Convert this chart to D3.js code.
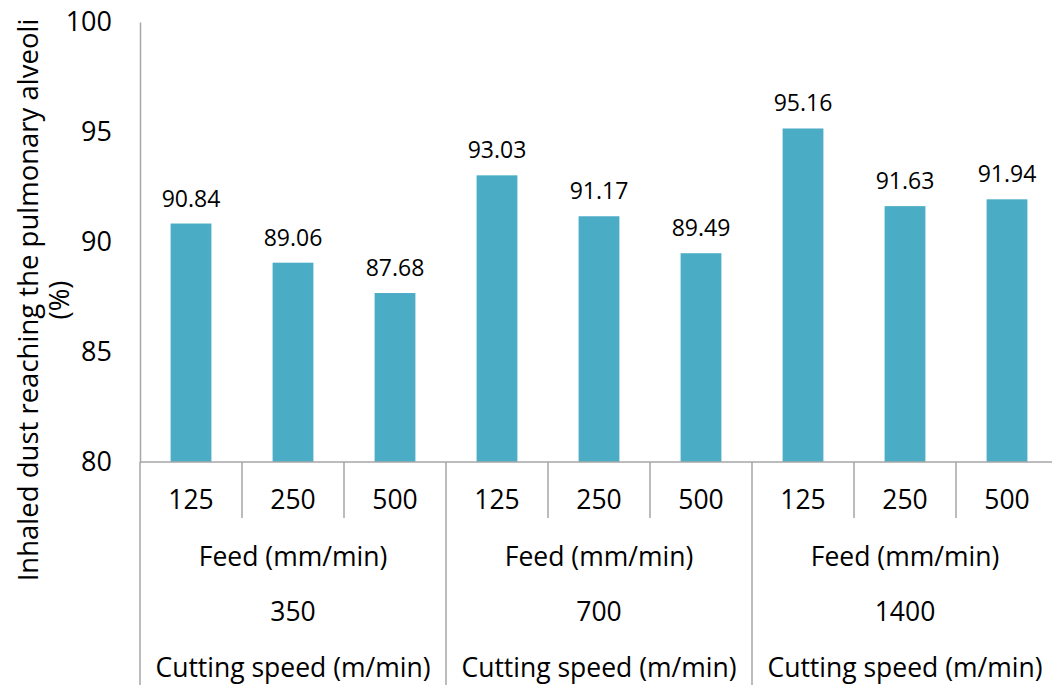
<!DOCTYPE html>
<html>
<head>
<meta charset="utf-8">
<script src="https://cdn.jsdelivr.net/npm/d3@7"></script>
<style>
  body { margin: 0; background: #fff; }
  svg text { font-family: "Open Sans", sans-serif; fill: #000; }
</style>
</head>
<body>
<div id="chart"></div>
<script>
// chart data
const speeds = ["350", "700", "1400"];
const feeds = ["125", "250", "500"];
const values = [90.84, 89.06, 87.68, 93.03, 91.17, 89.49, 95.16, 91.63, 91.94];
const yTicks = [80, 85, 90, 95, 100];
const feedTitle = "Feed (mm/min)";
const speedTitle = "Cutting speed (m/min)";

const width = 1052, height = 685;
const margin = { top: 22, left: 140, bottom: 223 };
const plotBottom = height - margin.bottom; // 462
const axisColor = "#a6a6a6";

const svg = d3.select("#chart")
  .append("svg")
  .attr("width", width)
  .attr("height", height);

// one key per bar: speed|feed
const keys = [];
speeds.forEach(s => feeds.forEach(f => keys.push(s + "|" + f)));

const x = d3.scaleBand()
  .domain(keys)
  .range([margin.left, margin.left + 102 * keys.length]);

const xGroup = d3.scaleBand()
  .domain(speeds)
  .range(x.range());

const y = d3.scaleLinear()
  .domain([80, 100])
  .range([plotBottom, margin.top]);

// y axis
const yAxis = svg.append("g")
  .attr("transform", "translate(" + margin.left + ",0)")
  .call(d3.axisLeft(y).tickValues(yTicks).tickSize(0).tickPadding(28));
yAxis.select(".domain").attr("stroke", axisColor).attr("stroke-width", 1.5);
yAxis.selectAll("text")
  .style("font-size", "27px")
  .style("font-family", "'Open Sans', sans-serif");

// y title
const yTitle = svg.append("text")
  .attr("transform", "translate(0,300) rotate(-90)")
  .attr("text-anchor", "middle")
  .style("font-size", "27.5px");
yTitle.append("tspan").attr("x", 0).attr("y", 38).text("Inhaled dust reaching the pulmonary alveoli");
yTitle.append("tspan").attr("x", 0).attr("y", 69).text("(%)");

// bars
const barW = x.bandwidth() * 0.4;
svg.append("g").selectAll("rect")
  .data(values)
  .join("rect")
  .attr("x", (d, i) => x(keys[i]) + (x.bandwidth() - barW) / 2)
  .attr("y", d => y(d))
  .attr("width", barW)
  .attr("height", d => y(80) - y(d))
  .attr("fill", "#4bacc6");

// data labels
svg.append("g").selectAll("text")
  .data(values)
  .join("text")
  .attr("x", (d, i) => x(keys[i]) + x.bandwidth() / 2)
  .attr("y", d => y(d) - 17)
  .attr("text-anchor", "middle")
  .style("font-size", "23px")
  .text(d => d.toFixed(2));

// category axis line
svg.append("line")
  .attr("x1", margin.left).attr("x2", width)
  .attr("y1", plotBottom).attr("y2", plotBottom)
  .attr("stroke", axisColor).attr("stroke-width", 1.5);

// short separators between feeds
const cat = svg.append("g");
keys.forEach((k, i) => {
  if (i % feeds.length === 0) return;
  cat.append("line")
    .attr("x1", x(k)).attr("x2", x(k))
    .attr("y1", plotBottom).attr("y2", 518)
    .attr("stroke", axisColor).attr("stroke-width", 1.5);
});
// long separators between speed groups
speeds.concat(["end"]).forEach((s, i) => {
  const xx = i < speeds.length ? xGroup(s) : xGroup.range()[1];
  cat.append("line")
    .attr("x1", xx).attr("x2", xx)
    .attr("y1", plotBottom).attr("y2", height)
    .attr("stroke", axisColor).attr("stroke-width", 1.5);
});

// feed labels
cat.selectAll("text.feed")
  .data(keys)
  .join("text")
  .attr("class", "feed")
  .attr("x", k => x(k) + x.bandwidth() / 2)
  .attr("y", 500)
  .attr("dy", "0.35em")
  .attr("text-anchor", "middle")
  .style("font-size", "26.5px")
  .text(k => k.split("|")[1]);

// group rows
speeds.forEach(s => {
  const cx = xGroup(s) + xGroup.bandwidth() / 2;
  [[557, feedTitle], [612, s], [668, speedTitle]].forEach(([yy, t]) => {
    cat.append("text")
      .attr("x", cx)
      .attr("y", yy)
      .attr("dy", "0.35em")
      .attr("text-anchor", "middle")
      .style("font-size", "26.5px")
      .text(t);
  });
});
</script>
</body>
</html>
